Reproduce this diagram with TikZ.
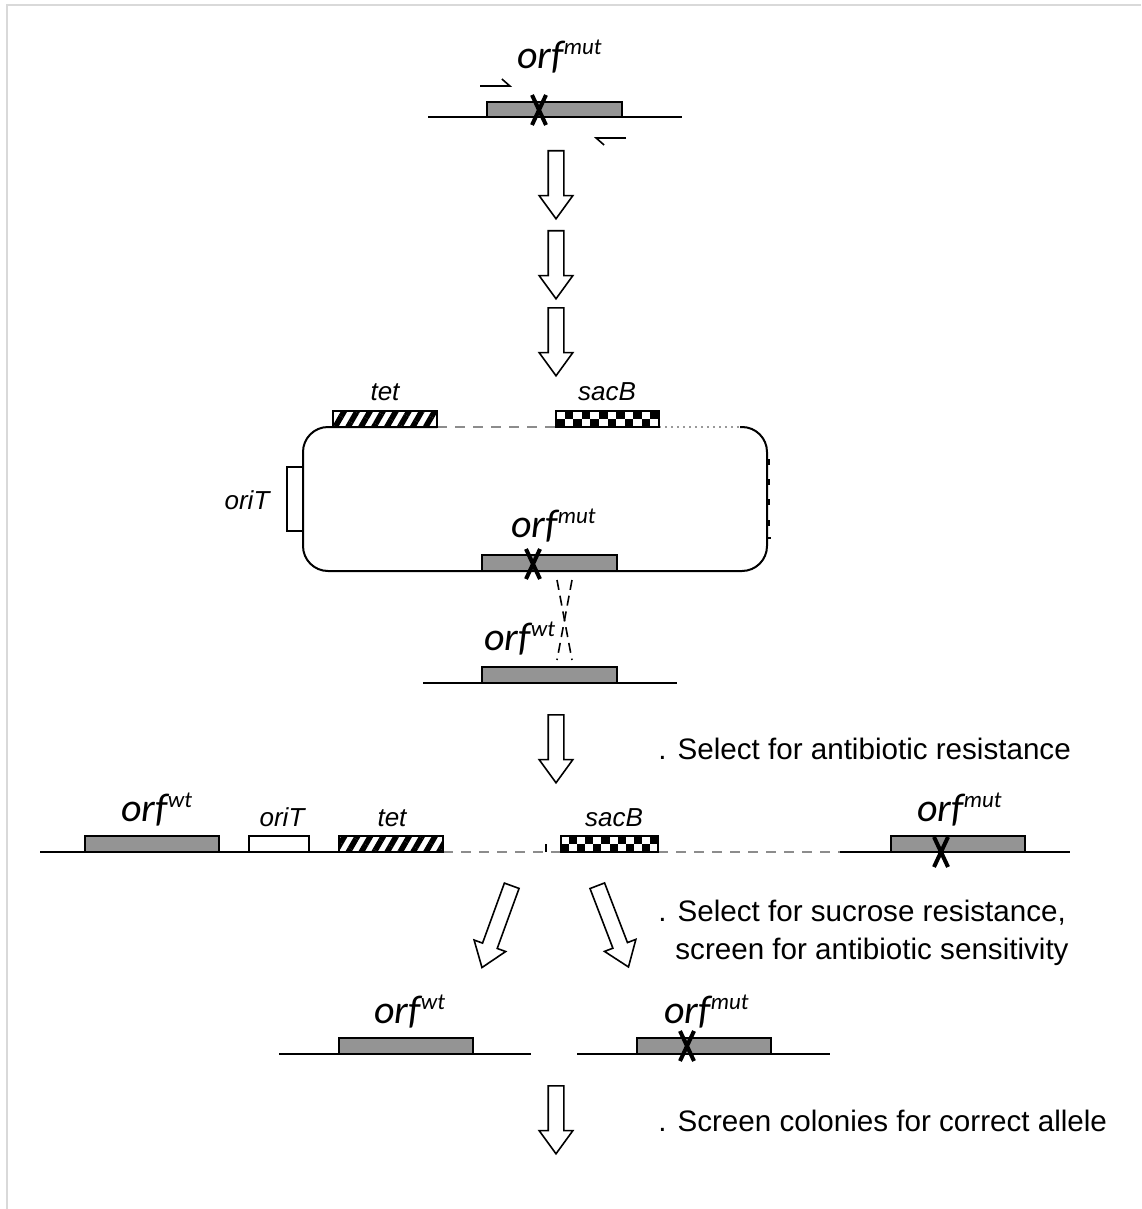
\documentclass[tikz,border=0pt]{standalone}
\usepackage{fontspec}
\setmainfont{Liberation Sans}
\newfontfamily\orffont{Carlito}
\usetikzlibrary{shapes.arrows,patterns.meta,arrows.meta}
\tikzset{
  dna/.style={line width=1pt},
  faint/.style={line width=1pt, black!45, dash pattern=on 5pt off 4pt},
  orfbox/.style={draw, line width=0.8pt, fill=black!42},
  bigarrow/.style={single arrow, draw, line width=0.8pt, fill=white,
    inner xsep=0pt, inner ysep=3.5pt, minimum height=34pt,
    single arrow head extend=4.5pt, single arrow tip angle=72, anchor=tail},
  orflabel/.style={font=\orffont\itshape\fontsize{20}{22}\selectfont, inner sep=0pt, anchor=base west},
  genelabel/.style={font=\itshape\fontsize{13}{15}\selectfont, inner sep=0pt, anchor=base},
  steptext/.style={font=\fontsize{14.8}{19}\selectfont, inner sep=0pt, anchor=base west},
  primer/.style={line width=0.8pt, -{Straight Barb[harpoon,length=4pt,width=7pt]}},
}
\newcommand{\orfsup}[1]{orf\raisebox{7pt}{\fontsize{11.5}{11.5}\selectfont #1}}
\newcommand{\mutx}[2]{\draw[line width=2pt] (#1-7,#2-15) -- (#1+7,#2+15) (#1+7,#2-15) -- (#1-7,#2+15);}
\newcommand{\tetblock}[3]{\draw[line width=0.8pt, fill=white, pattern={Lines[angle=60,distance=5.6pt,line width=2.8pt]}] (#1,#2) rectangle ++(#3,16);}
\newcommand{\sacblock}[3]{%
  \fill[white] (#1,#2) rectangle ++(#3,16);
  \foreach \i in {0,...,11}{
    \pgfmathsetmacro{\cx}{#1+#3/12*\i}
    \ifodd\i \fill (\cx,#2) rectangle ++(#3/12,8); \else \fill (\cx,#2+8) rectangle ++(#3/12,8); \fi
  }
  \draw[line width=0.8pt] (#1,#2) rectangle ++(#3,16);}

\begin{document}
\begin{tikzpicture}[x=0.5pt, y=-0.5pt]
\useasboundingbox (0,0) rectangle (1141,1209);
\draw[black!15, line width=1pt] (7,1209) -- (7,5) -- (1141,5);

% mutant allele with primers
\node[orflabel] (mut1) at (517,69) {\orfsup{mut}};
\draw[dna] (428,117) -- (682,117);
\draw[orfbox] (487,102) rectangle (622,117);
\mutx{539}{110}
\coordinate (p1a) at (480,86);
\coordinate (p1b) at (512,86);
\coordinate (p2a) at (626,138);
\coordinate (p2b) at (594,138);
\draw[primer] (p1a) -- (p1b);
\draw[primer] (p2a) -- (p2b);

\node[bigarrow, rotate=-90] (a1) at (556,150) {};
\node[bigarrow, rotate=-90] (a2) at (556,230) {};
\node[bigarrow, rotate=-90] (a3) at (556,307) {};

% suicide plasmid
\draw[dna, rounded corners=12.5pt] (437,427) -- (303,427) -- (303,571) -- (767,571) -- (767,427) -- (740,427);
\draw[faint] (437,427) -- (556,427);
\draw[line width=1pt, black!40, dotted] (659,427) -- (740,427);
\tetblock{333}{411}{104}
\sacblock{556}{411}{103}
\node[genelabel] (tet1) at (385,400) {tet};
\node[genelabel] (sac1) at (607,400) {sacB};
\draw[line width=0.8pt, fill=white] (287,467) rectangle (303,531);
\node[genelabel] (ori1) at (247,509) {oriT};
\foreach \ty in {459,479,499,520}
  \fill (767,\ty) rectangle ++(3,6);
\draw[line width=0.8pt] (767,538) -- (771,538);
\node[orflabel] (mut2) at (511,537) {\orfsup{mut}};
\draw[orfbox] (482,555) rectangle (617,571);
\mutx{533}{564}

% crossover
\coordinate (cx1) at (557,580);
\coordinate (cx2) at (572,660);
\coordinate (cx3) at (572,580);
\coordinate (cx4) at (557,660);
\draw[line width=0.8pt, dash pattern=on 5pt off 3pt] (cx1) -- (cx2);
\draw[line width=0.8pt, dash pattern=on 5pt off 3pt] (cx3) -- (cx4);

% wild type chromosome
\node[orflabel] (wt1) at (484,650) {\orfsup{wt}};
\draw[dna] (423,683) -- (677,683);
\draw[orfbox] (482,667) rectangle (617,683);

\node[bigarrow, rotate=-90] (a4) at (556,714) {};
\node[steptext] (s1) at (658,759) {. Select for antibiotic resistance};

% merodiploid
\draw[dna] (40,852) -- (443,852);
\draw[faint] (443,852) -- (561,852);
\draw[line width=0.8pt] (546,844) -- (546,852);
\draw[faint] (658,852) -- (840,852);
\draw[dna] (840,852) -- (1070,852);
\node[orflabel] (wt2) at (121,821) {\orfsup{wt}};
\draw[orfbox] (85,836) rectangle (219,852);
\draw[line width=0.8pt, fill=white] (249,836) rectangle (309,852);
\node[genelabel] (ori2) at (282,826) {oriT};
\tetblock{339}{836}{104}
\node[genelabel] (tet2) at (392,826) {tet};
\sacblock{561}{836}{97}
\node[genelabel] (sac2) at (614,826) {sacB};
\node[orflabel] (mut3) at (917,821) {\orfsup{mut}};
\draw[orfbox] (891,836) rectangle (1025,852);
\mutx{941}{852}

\node[bigarrow, rotate=-110, minimum height=43.5pt] (a5) at (512,885) {};
\node[bigarrow, rotate=-69, minimum height=43.5pt] (a6) at (597,885) {};
\node[steptext] (s2) at (658,921) {. Select for sucrose resistance,};
\node[steptext] (s3) at (675,959) {screen for antibiotic sensitivity};

% resolved alleles
\node[orflabel] (wt3) at (374,1023) {\orfsup{wt}};
\draw[dna] (279,1054) -- (531,1054);
\draw[orfbox] (339,1038) rectangle (473,1054);
\node[orflabel] (mut4) at (664,1023) {\orfsup{mut}};
\draw[dna] (577,1054) -- (830,1054);
\draw[orfbox] (637,1038) rectangle (771,1054);
\mutx{687}{1046}

\node[bigarrow, rotate=-90] (a7) at (556,1085) {};
\node[steptext] (s4) at (658,1131) {. Screen colonies for correct allele};
\end{tikzpicture}
\end{document}
